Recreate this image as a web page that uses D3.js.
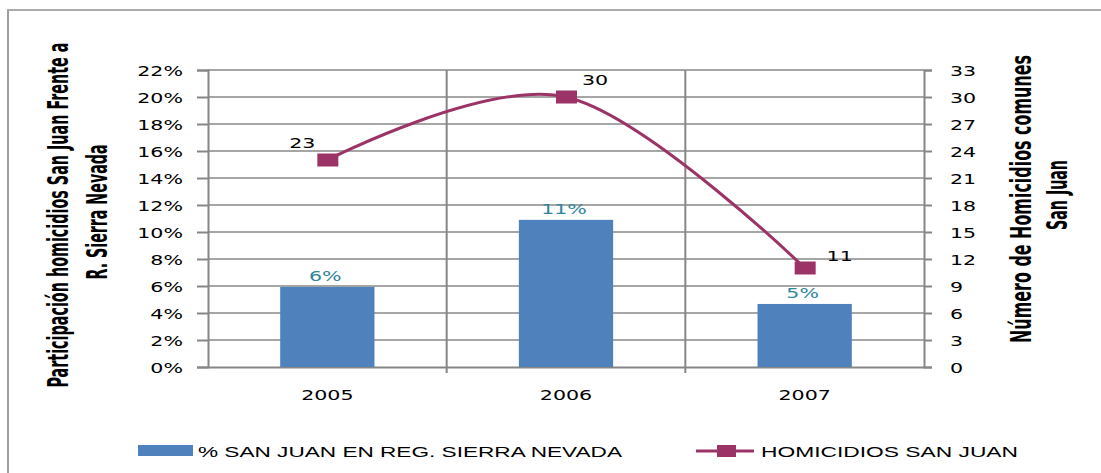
<!DOCTYPE html>
<html><head><meta charset="utf-8">
<script src="https://cdn.jsdelivr.net/npm/d3@7"></script>
<style>
html,body{margin:0;padding:0;background:#fff;}
svg{display:block;}
</style>
</head><body>
<script>
// ---- data ----
const years = ["2005", "2006", "2007"];
const pctSanJuan = [0.0593, 0.109, 0.0467];   // % San Juan en Reg. Sierra Nevada
const homicidios = [23, 30, 11];               // Homicidios San Juan
const pctTicks = [0, 0.02, 0.04, 0.06, 0.08, 0.10, 0.12, 0.14, 0.16, 0.18, 0.20, 0.22];
const countTicks = [0, 3, 6, 9, 12, 15, 18, 21, 24, 27, 30, 33];
const seriesNames = ["% SAN JUAN EN REG. SIERRA NEVADA", "HOMICIDIOS SAN JUAN"];
const leftTitle = ["Participación homicidios San Juan Frente a", "R. Sierra Nevada"];
const rightTitle = ["Número de Homicidios comunes", "San Juan"];

// ---- styling ----
const W = 1101, H = 473;
const BAR = "#4F81BD", LINE = "#9B3366", LBL = "#31859C";
const GRID = "#A6A6A6", AXIS = "#868686";
const SX = 1.47; // horizontal stretch of text in the reference
const TICKFONT = "'DejaVu Sans', Verdana, sans-serif";
const TITLEFONT = "'Liberation Sans Narrow', 'Arial Narrow', 'DejaVu Sans Condensed', sans-serif";

const svg = d3.select("body").append("svg").attr("width", W).attr("height", H);

// frame
svg.append("line").attr("x1", 8).attr("x2", 8).attr("y1", 10).attr("y2", H)
  .attr("stroke", "#9E9E9E").attr("stroke-width", 2);
svg.append("line").attr("x1", 7).attr("x2", W).attr("y1", 10).attr("y2", 10)
  .attr("stroke", "#ABABAB").attr("stroke-width", 2);

const plot = {l: 208, r: 924, t: 70, b: 367};
const x = d3.scaleBand().domain(years).range([plot.l, plot.r]).padding(0);
const yL = d3.scaleLinear().domain([0, 0.22]).range([plot.b, plot.t]);
const yR = d3.scaleLinear().domain([0, 33]).range([plot.b, plot.t]);

// horizontal gridlines
svg.append("g").selectAll("line").data(pctTicks.slice(1)).join("line")
  .attr("x1", plot.l).attr("x2", plot.r)
  .attr("y1", d => yL(d)).attr("y2", d => yL(d))
  .attr("stroke", GRID).attr("stroke-width", 2);

// vertical gridlines at category boundaries
const bounds = years.slice(1).map(d => x(d));
svg.append("g").selectAll("line").data(bounds).join("line")
  .attr("x1", d => d).attr("x2", d => d)
  .attr("y1", plot.t).attr("y2", plot.b + 6)
  .attr("stroke", AXIS).attr("stroke-width", 2);

// left axis
const axL = svg.append("g").attr("transform", `translate(${plot.l},0)`)
  .call(d3.axisLeft(yL).tickValues(pctTicks).tickSize(11).tickFormat(d3.format(".0%")));
axL.select(".domain").attr("stroke", AXIS).attr("stroke-width", 2);
axL.selectAll(".tick line").attr("stroke", AXIS).attr("stroke-width", 2);
axL.selectAll(".tick text").attr("x", null).attr("dy", "0.36em")
  .attr("transform", `translate(-25,0) scale(${SX},1)`)
  .attr("font-family", TICKFONT).attr("font-size", 14).attr("fill", "#000");

// right axis
const axR = svg.append("g").attr("transform", `translate(${plot.r},0)`)
  .call(d3.axisRight(yR).tickValues(countTicks).tickSize(8));
axR.select(".domain").attr("stroke", AXIS).attr("stroke-width", 2);
axR.selectAll(".tick line").attr("stroke", AXIS).attr("stroke-width", 2);
axR.selectAll(".tick text").attr("x", null).attr("dy", "0.36em")
  .attr("transform", `translate(26,0) scale(${SX},1)`)
  .attr("font-family", TICKFONT).attr("font-size", 14).attr("fill", "#000");

// bottom axis
const axB = svg.append("g").attr("transform", `translate(0,${plot.b})`)
  .call(d3.axisBottom(x).tickSize(0));
axB.select(".domain").attr("stroke", AXIS).attr("stroke-width", 2);
axB.selectAll(".tick text").attr("y", null).attr("dy", null)
  .attr("transform", `translate(0,33) scale(${SX},1)`)
  .attr("font-family", TICKFONT).attr("font-size", 14).attr("fill", "#000");

// bars
const bw = x.bandwidth() * 0.395;
const cx = d => x(d) + x.bandwidth() / 2;
svg.append("g").selectAll("rect").data(years).join("rect")
  .attr("x", (d) => cx(d) - bw / 2)
  .attr("y", (d, i) => yL(pctSanJuan[i]))
  .attr("width", bw)
  .attr("height", (d, i) => plot.b - yL(pctSanJuan[i]))
  .attr("fill", BAR);

// bar labels
svg.append("g").selectAll("text").data(years).join("text")
  .attr("transform", (d, i) => `translate(${cx(d) - 2},${yL(pctSanJuan[i]) - 6}) scale(${SX},1)`)
  .attr("text-anchor", "middle")
  .attr("font-family", TICKFONT).attr("font-size", 14).attr("fill", LBL)
  .text((d, i) => d3.format(".0%")(pctSanJuan[i]));

// line
const pts = years.map((d, i) => [cx(d), yR(homicidios[i])]);
svg.append("path").attr("d", d3.line().curve(d3.curveCardinal.tension(0))(pts))
  .attr("fill", "none").attr("stroke", LINE).attr("stroke-width", 3);
svg.append("g").selectAll("rect").data(pts).join("rect")
  .attr("x", d => d[0] - 10).attr("y", d => d[1] - 6.5)
  .attr("width", 21).attr("height", 13).attr("fill", LINE);

// line labels
const lblOff = [[-25, -12], [29, -12], [35, -7]];
svg.append("g").selectAll("text").data(pts).join("text")
  .attr("transform", (d, i) => `translate(${d[0] + lblOff[i][0]},${d[1] + lblOff[i][1]}) scale(${SX},1)`)
  .attr("text-anchor", "middle")
  .attr("font-family", TICKFONT).attr("font-size", 14).attr("fill", "#000")
  .text((d, i) => homicidios[i]);

// axis titles
function vtitle(txt, tx, ty, len) {
  svg.append("text")
    .attr("transform", `translate(${tx},${ty}) scale(1.4,1) rotate(-90)`)
    .attr("text-anchor", "middle")
    .attr("font-family", TITLEFONT).attr("font-weight", "bold").attr("font-size", 20)
    .attr("textLength", len).attr("lengthAdjust", "spacingAndGlyphs")
    .attr("fill", "#000").text(txt);
}
vtitle(leftTitle[0], 68, 215, 345);
vtitle(leftTitle[1], 107, 212, 135);
vtitle(rightTitle[0], 1031, 199, 288);
vtitle(rightTitle[1], 1067, 195, 70);

// legend
const lg = svg.append("g");
lg.append("rect").attr("x", 138).attr("y", 445).attr("width", 55).attr("height", 11).attr("fill", BAR);
lg.append("text").attr("x", 198).attr("y", 457)
  .attr("font-family", "'Liberation Sans', Arial, sans-serif").attr("font-size", 15)
  .attr("textLength", 424).attr("lengthAdjust", "spacingAndGlyphs").text(seriesNames[0]);
lg.append("line").attr("x1", 696).attr("x2", 754).attr("y1", 451).attr("y2", 451)
  .attr("stroke", LINE).attr("stroke-width", 3);
lg.append("rect").attr("x", 717).attr("y", 445).attr("width", 19).attr("height", 12).attr("fill", LINE);
lg.append("text").attr("x", 761).attr("y", 457)
  .attr("font-family", "'Liberation Sans', Arial, sans-serif").attr("font-size", 15)
  .attr("textLength", 257).attr("lengthAdjust", "spacingAndGlyphs").text(seriesNames[1]);
</script>
</body></html>
